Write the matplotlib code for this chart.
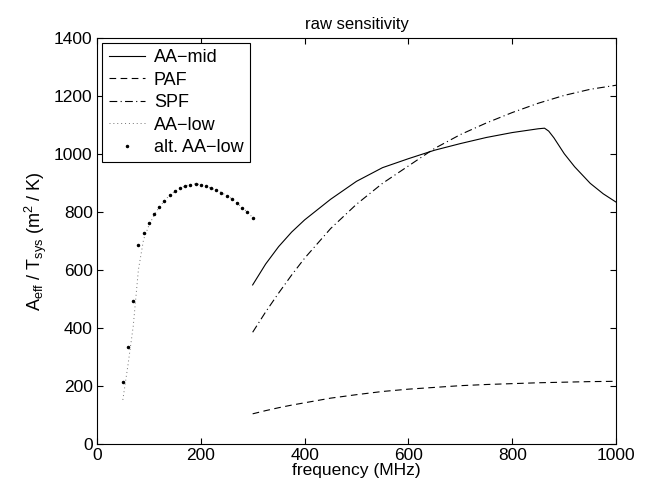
import numpy as np
import matplotlib
matplotlib.use('Agg')
import matplotlib.pyplot as plt

plt.rcParams['font.family'] = ['Liberation Sans', 'DejaVu Sans']
plt.rcParams['mathtext.fontset'] = 'custom'
plt.rcParams['mathtext.rm'] = 'Liberation Sans'
plt.rcParams['mathtext.it'] = 'Liberation Sans'

# AA-mid on its own frequency grid (MHz)
freqMid = [300, 325, 350, 375, 400, 450, 500, 550, 600, 650, 700, 750, 800,
           850, 862, 870, 880, 900, 920, 950, 975, 1000]
aaMid = [548, 620, 680, 730, 772, 843, 905, 952, 983, 1012, 1035, 1056, 1073,
         1086, 1088, 1078, 1055, 1000, 955, 898, 862, 833]
# PAF and SPF share a grid
freqSpf = [300, 325, 350, 375, 400, 450, 500, 550, 600, 650, 700, 750, 800,
           850, 900, 950, 1000]
spf = [385, 455, 520, 582, 640, 742, 826, 898, 958, 1018, 1066, 1106, 1142,
       1174, 1201, 1222, 1236]
paf = [104, 115, 125, 134, 142, 158, 170, 181, 189, 195, 201, 205, 208,
       211, 213, 215, 216]

# AA-low curve and alternative AA-low points
freqLow = [50, 60, 70, 80, 90, 100, 110, 120, 130, 140, 150, 160, 170, 180,
           190, 200, 210, 220, 230, 240, 250, 260, 270, 280, 290, 300]
aaLow = [152, 273, 405, 600, 705, 752, 788, 815, 838, 857, 870, 881, 889,
         894, 896, 894, 888, 881, 875, 866, 856, 845, 830, 814, 799, 780]
altAaLow = [212, 335, 494, 687, 727, 761, 791, 816, 838, 857, 870, 881, 889,
            894, 896, 894, 888, 881, 875, 866, 856, 845, 830, 814, 799, 780]


def main():
    fig = plt.figure(figsize=(6.5, 4.95), dpi=100)
    ax = fig.add_axes([0.149, 0.103, 0.799, 0.821])

    ax.plot(freqMid, aaMid, color='k', lw=0.8, label='AA\u2212mid')
    ax.plot(freqSpf, paf, color='k', lw=0.8, ls=(0, (6, 4)), label='PAF')
    ax.plot(freqSpf, spf, color='k', lw=0.8, ls=(0, (7, 3, 1, 3)),
            label='SPF')
    ax.plot(freqLow, aaLow, color='0.45', lw=0.7, ls=(0, (1, 3)),
            label='AA\u2212low')
    ax.plot(freqLow, altAaLow, color='k', ls='none', marker='.',
            markersize=3, label='alt. AA\u2212low')

    ax.set_xlim(0, 1000)
    ax.set_ylim(0, 1400)
    ax.set_xticks(np.arange(0, 1001, 200))
    ax.set_yticks(np.arange(0, 1401, 200))
    ax.tick_params(direction='in', top=True, right=True, labelsize=12.5,
                   length=4, width=0.8, pad=3)
    for s in ax.spines.values():
        s.set_linewidth(0.8)

    ax.set_title('raw sensitivity', fontsize=12, pad=6)
    ax.set_xlabel('frequency (MHz)', fontsize=12.5, labelpad=0)
    ax.set_ylabel(r'A$_{\rm eff}$ / T$_{\rm sys}$ (m$^2$ / K)', fontsize=13,
                  labelpad=4)

    leg = ax.legend(loc='upper left', fontsize=13, handlelength=2.0,
                    borderaxespad=0.3, fancybox=False, framealpha=1,
                    edgecolor='k', labelspacing=0.3, handletextpad=0.5,
                    borderpad=0.35)
    leg.get_frame().set_linewidth(0.8)

    fig.savefig('out.png', dpi=100)


if __name__ == '__main__':
    main()
